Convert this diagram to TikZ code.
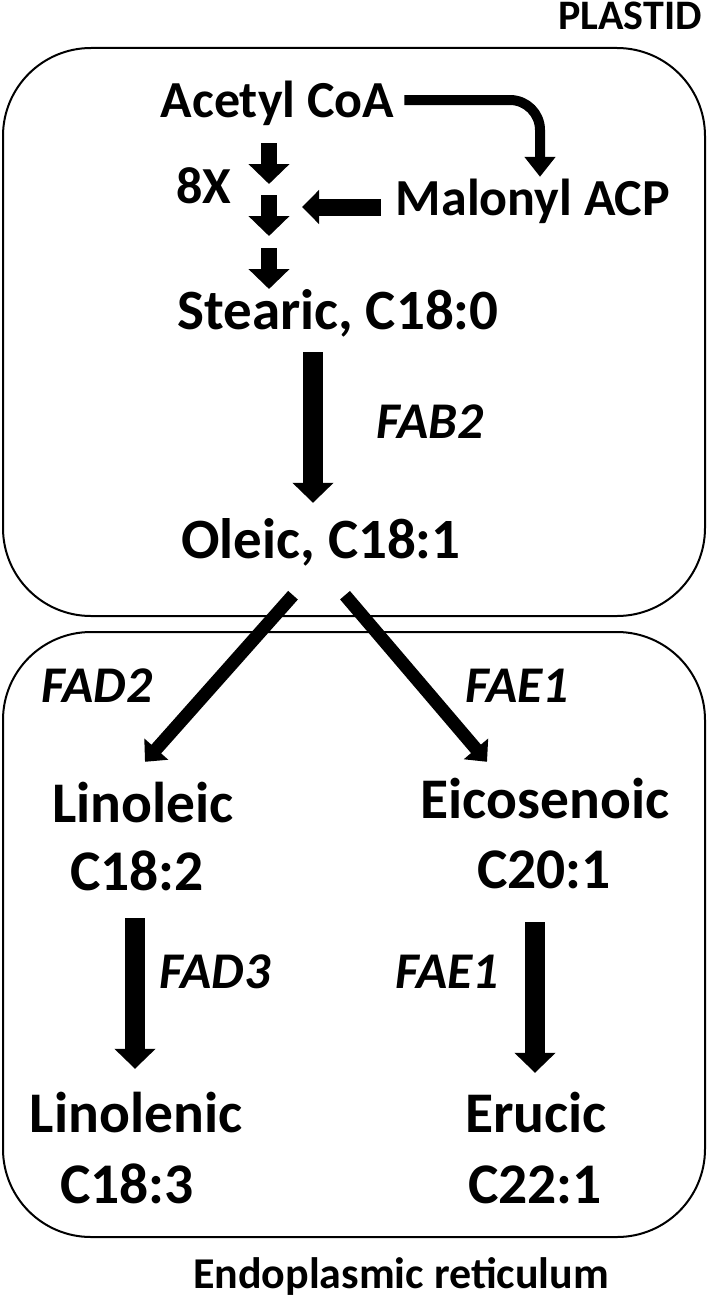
\documentclass[tikz,border=0pt]{standalone}
\usepackage{fontspec}
\setmainfont{Carlito}
\usetikzlibrary{arrows.meta}

\tikzset{
  mol/.style={font=\bfseries\fontsize{52}{58}\selectfont, inner sep=0pt, anchor=base, text height=36pt, text depth=2pt},
  big/.style={font=\bfseries\fontsize{57}{62}\selectfont},
  acid/.style={font=\bfseries\fontsize{57.5}{62}\selectfont, inner sep=0pt, anchor=base, text height=40pt, text depth=2pt},
  enz/.style={font=\bfseries\itshape\fontsize{51.5}{56}\selectfont, inner sep=0pt, anchor=base},
  comp/.style={font=\bfseries\fontsize{44}{48}\selectfont, inner sep=0pt, anchor=base},
  room/.style={draw, line width=2pt, rounded corners=88pt},
  fat/.style={line width=20pt, -{Triangle[width=40pt,length=20pt]}},
  small/.style={line width=16pt, -{Triangle[width=40pt,length=20pt]}},
  mid/.style={line width=17pt, -{Triangle[width=33pt,length=17pt]}},
  slim/.style={line width=13pt, -{Triangle[width=31pt,length=17pt]}},
  bent/.style={line width=10pt, rounded corners=30pt, -{Triangle[width=30pt,length=20pt]}}
}

\begin{document}
\begin{tikzpicture}[x=1pt, y=-1pt]
\useasboundingbox (0,0) rectangle (709,1298);

\draw[room] (3,48) rectangle (705,616);
\draw[room] (3,632) rectangle (705,1237);

\node[comp, font=\bfseries\fontsize{42}{46}\selectfont] (plastid) at (630,30) {PLASTID};
\node[comp] (er) at (401,1288) {Endoplasmic reticulum};

\node[mol] (acetyl) at (277.5,117) {Acetyl CoA};
\node[mol] (malonyl) at (533,215) {Malonyl ACP};
\node[mol] (eightx) at (204,203) {8X};
\node[mol, big] (stearic) at (338,329) {Stearic, C18:0};
\node[mol, big] (oleic) at (321,558) {Oleic, C18:1};

\node[enz] (fab2) at (430,438) {FAB2};
\node[enz] (fad2) at (97,702) {FAD2};
\node[enz] (fae1a) at (517,702) {FAE1};
\node[enz] (fad3) at (215,988) {FAD3};
\node[enz] (fae1b) at (447,988) {FAE1};

\node[acid] (linoleic) at (143,822) {Linoleic};
\node[acid] (c182) at (137,890) {C18:2};
\node[acid] (eicosenoic) at (545,818) {Eicosenoic};
\node[acid] (c201) at (544,888) {C20:1};
\node[acid] (linolenic) at (136,1132) {Linolenic};
\node[acid] (c183) at (127,1203) {C18:3};
\node[acid] (erucic) at (536,1132) {Erucic};
\node[acid] (c221) at (535,1203) {C22:1};

% elongation steps
\foreach \i/\y in {1/143,2/195,3/248}{
  \coordinate (top\i) at (269,\y);
  \coordinate (bot\i) at (269,\y+41);
  \draw[small] (top\i) -- (bot\i);
}
\coordinate (join) at (302,207);

\draw[bent] ([xshift=10pt]acetyl.east) -| ([xshift=7pt,yshift=2pt]malonyl.north);
\draw[mid, shorten <=15pt] ([yshift=-9pt]malonyl.west) -- (join);

\draw[fat, shorten <=21pt, shorten >=19pt] ([xshift=-25pt]stearic.south) -- ([xshift=-8pt]oleic.north);

\draw[slim] ([xshift=-28pt,yshift=-35pt]oleic.south) -- ([xshift=2pt,yshift=20pt]linoleic.north);
\draw[slim] ([xshift=24pt,yshift=-35pt]oleic.south) -- ([xshift=-58pt,yshift=16pt]eicosenoic.north);

\draw[fat, shorten <=26pt, shorten >=23pt] ([xshift=-2pt]c182.south) -- ([xshift=-1pt]linolenic.north);
\draw[fat, shorten <=32pt, shorten >=19pt] ([xshift=-9pt]c201.south) -- ([xshift=-1pt]erucic.north);

\end{tikzpicture}
\end{document}
